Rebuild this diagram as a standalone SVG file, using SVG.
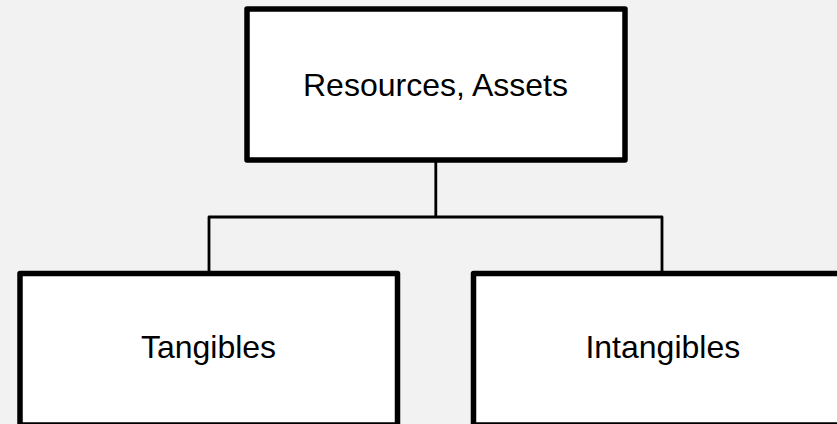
<svg xmlns="http://www.w3.org/2000/svg" width="837" height="424" viewBox="0 0 837 424">
<style>
.box{fill:#ffffff;stroke:#000000;stroke-width:5.5;stroke-linejoin:round}
.lbl{font-family:"Liberation Sans",Arial,sans-serif;font-size:32px;fill:#000000;text-anchor:middle}
.conn{fill:none;stroke:#000000;stroke-width:2.8;stroke-linejoin:round}
</style>
<rect x="0" y="0" width="837" height="424" fill="#f2f2f2"/>
<g id="connectors">
<path class="conn" d="M435.8,160 V217 M209,274 V217 H662 V274"/>
</g>
<g id="node-resources">
<rect class="box" x="247" y="9" width="378" height="151"/>
<text class="lbl" x="435.5" y="96">Resources, Assets</text>
</g>
<g id="node-tangibles">
<rect class="box" x="20" y="273.5" width="377.5" height="151.5"/>
<text class="lbl" x="208.5" y="358">Tangibles</text>
</g>
<g id="node-intangibles">
<rect class="box" x="473.5" y="273.5" width="377.5" height="151.5"/>
<text class="lbl" x="662.8" y="358">Intangibles</text>
</g>
</svg>
